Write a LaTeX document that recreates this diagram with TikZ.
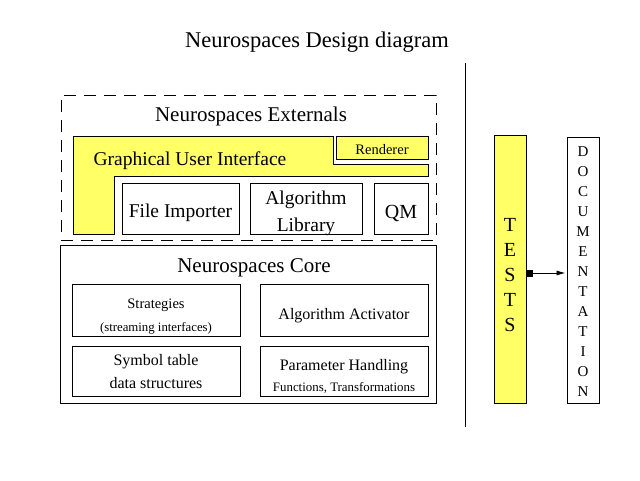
\documentclass[tikz,border=0pt]{standalone}
\usepackage{fontspec}
\setmainfont{Liberation Serif}
\usetikzlibrary{arrows.meta}
\definecolor{guiyellow}{RGB}{255,255,102}
\tikzset{
  box/.style={draw=black, line width=0.8pt, inner sep=0pt, anchor=north west, align=center},
  ybox/.style={box, fill=guiyellow},
  fs/.style={font=\fontsize{#1}{#1}\selectfont},
  fsl/.style 2 args={font=\fontsize{#1}{#2}\selectfont, align=center, inner sep=0pt}
}
\begin{document}
\begin{tikzpicture}[x=1pt,y=-1pt]
\useasboundingbox (0,0) rectangle (640,480);
% title
\node[fs=22.5] (title) at (317,42) {Neurospaces Design diagram};
% separator
\draw[line width=0.8pt] (465,63) coordinate (sepTop) -- (465,427) coordinate (sepBot);
% externals dashed box
\node[box, dash pattern=on 12pt off 8pt, minimum width=375pt, minimum height=145pt] (ext) at (61,95) {};
\node[fs=21] (extlabel) at (251,116) {Neurospaces Externals};
% GUI L-shape
\draw[line width=0.8pt, fill=guiyellow] (73,136) -- (333,136) -- (333,164) -- (428,164) -- (428,176) -- (114,176) -- (114,234) -- (73,234) -- cycle;
\node[fs=19.5] (guilabel) at (190,160.5) {Graphical User Interface};
% Renderer
\node[ybox, minimum width=92pt, minimum height=23pt] (rend) at (336,136) {};
\node[fs=14.5] (rendlabel) at (382,150) {Renderer};
% externals modules
\node[box, minimum width=117pt, minimum height=51pt] (fimp) at (122,183) {};
\node[fs=19.5] (fimplabel) at (180.5,213) {File Importer};
\node[box, minimum width=112pt, minimum height=51pt] (alib) at (250,183) {};
\node[fsl={19.5}{27}] (aliblabel) at (306,213) {Algorithm\\Library};
\node[box, minimum width=54pt, minimum height=51pt] (qm) at (374,183) {};
\node[fs=20] (qmlabel) at (401,213) {QM};
% core
\node[box, minimum width=376pt, minimum height=158pt] (core) at (60,245) {};
\node[fs=21] (corelabel) at (254,268) {Neurospaces Core};
\node[box, minimum width=168pt, minimum height=52pt] (strat) at (72,284) {};
\node[fs=14.5] (stratlabel) at (156,305.5) {Strategies};
\node[fs=12.8] (stratsub) at (156,328) {(streaming interfaces)};
\node[box, minimum width=168pt, minimum height=52pt] (act) at (260,284) {};
\node[fs=16] (actlabel) at (344,316) {Algorithm Activator};
\node[box, minimum width=168pt, minimum height=50pt] (sym) at (72,346) {};
\node[fsl={16}{23}] (symlabel) at (156,372) {Symbol table\\data structures};
\node[box, minimum width=168pt, minimum height=50pt] (par) at (260,346) {};
\node[fs=16] (parlabel) at (344,366.5) {Parameter Handling};
\node[fs=12.9] (parsub) at (344,387.5) {Functions, Transformations};
% tests
\node[ybox, minimum width=32pt, minimum height=268pt] (tests) at (494,135) {};
\node[fsl={20}{25}] (testslabel) at (510,275) {T\\E\\S\\T\\S};
% documentation
\node[box, minimum width=32pt, minimum height=266pt] (doc) at (567,137) {};
\node[fsl={15}{20}] (doclabel) at (583,272) {D\\O\\C\\U\\M\\E\\N\\T\\A\\T\\I\\O\\N};
% arrow
\draw[line width=0.8pt, {Square[length=6pt,width=7pt]}-{Latex[length=9pt,width=5pt]}] (tests.east |- 0,273) -- ([xshift=-1.5pt]doc.west |- 0,273);
\end{tikzpicture}
\end{document}
